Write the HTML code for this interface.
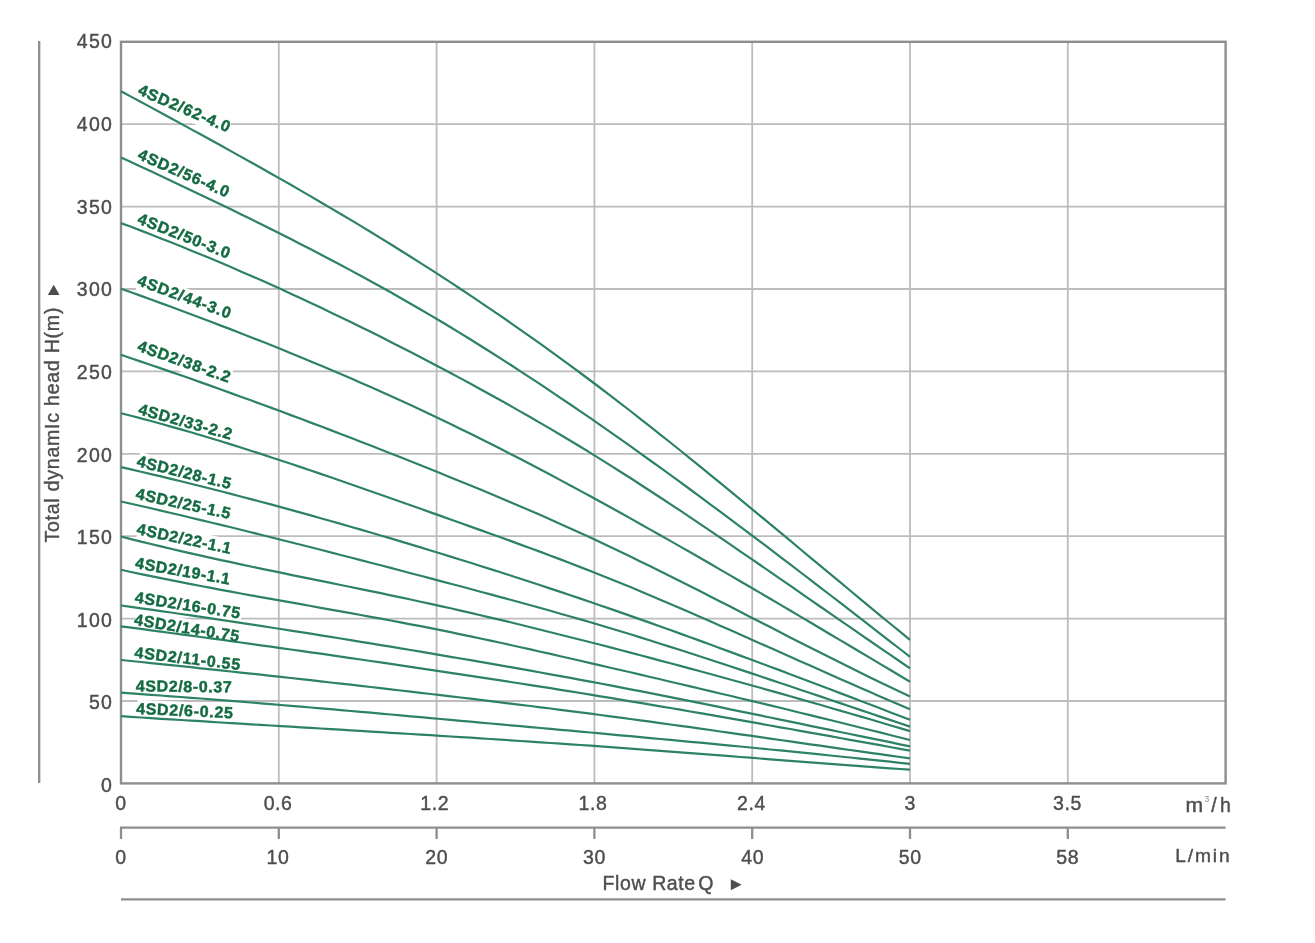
<!DOCTYPE html>
<html lang="en">
<head>
<meta charset="utf-8">
<title>4SD2 pump performance curves</title>
<style>
html,body{margin:0;padding:0;background:#ffffff;}
body{width:1315px;height:943px;position:relative;overflow:hidden;font-family:"Liberation Sans",sans-serif;}
</style>
</head>
<body>
<svg width="1315" height="943" viewBox="0 0 1315 943" style="position:absolute;left:0;top:0;display:block">
<rect x="0" y="0" width="1315" height="943" fill="#ffffff"/>
<g stroke="#bcbcbc" stroke-width="1.8" fill="none">
<line x1="278.8" y1="41.8" x2="278.8" y2="783.4"/>
<line x1="436.6" y1="41.8" x2="436.6" y2="783.4"/>
<line x1="594.4" y1="41.8" x2="594.4" y2="783.4"/>
<line x1="752.2" y1="41.8" x2="752.2" y2="783.4"/>
<line x1="910.0" y1="41.8" x2="910.0" y2="783.4"/>
<line x1="1067.8" y1="41.8" x2="1067.8" y2="783.4"/>
<line x1="121.0" y1="124.2" x2="1225.6" y2="124.2"/>
<line x1="121.0" y1="206.6" x2="1225.6" y2="206.6"/>
<line x1="121.0" y1="289.0" x2="1225.6" y2="289.0"/>
<line x1="121.0" y1="371.4" x2="1225.6" y2="371.4"/>
<line x1="121.0" y1="453.8" x2="1225.6" y2="453.8"/>
<line x1="121.0" y1="536.2" x2="1225.6" y2="536.2"/>
<line x1="121.0" y1="618.6" x2="1225.6" y2="618.6"/>
<line x1="121.0" y1="701.0" x2="1225.6" y2="701.0"/>
</g>
<g fill="#ffffff">
<rect x="137.9" y="80.1" width="97" height="19" transform="rotate(23.0 136.9 94.1)"/>
<rect x="137.8" y="144.6" width="97" height="19" transform="rotate(23.5 136.8 158.6)"/>
<rect x="137.6" y="209.0" width="97" height="19" transform="rotate(21.5 136.6 223.0)"/>
<rect x="137.3" y="270.8" width="97" height="19" transform="rotate(20.2 136.3 284.8)"/>
<rect x="137.4" y="336.5" width="97" height="19" transform="rotate(19.4 136.4 350.5)"/>
<rect x="138.4" y="399.7" width="97" height="19" transform="rotate(15.5 137.4 413.7)"/>
<rect x="137.0" y="451.7" width="97" height="19" transform="rotate(13.9 136.0 465.7)"/>
<rect x="136.1" y="484.3" width="97" height="19" transform="rotate(12.1 135.1 498.3)"/>
<rect x="137.1" y="519.8" width="97" height="19" transform="rotate(11.9 136.1 533.8)"/>
<rect x="135.5" y="553.6" width="97" height="19" transform="rotate(9.8 134.5 567.6)"/>
<rect x="135.3" y="588.1" width="107" height="19" transform="rotate(8.6 134.3 602.1)"/>
<rect x="134.5" y="610.3" width="107" height="19" transform="rotate(9.2 133.5 624.3)"/>
<rect x="135.1" y="643.0" width="107" height="19" transform="rotate(6.7 134.1 657.0)"/>
<rect x="136.7" y="677.0" width="97" height="19" transform="rotate(0.6 135.7 691.0)"/>
<rect x="136.9" y="699.6" width="97" height="19" transform="rotate(2.6 135.9 713.6)"/>
</g>
<rect x="121.0" y="41.8" width="1104.6" height="741.6" fill="none" stroke="#8e8e8e" stroke-width="2.4"/>
<line x1="39.2" y1="41" x2="39.2" y2="783" stroke="#8e8e8e" stroke-width="2.3"/>
<g stroke="#8e8e8e" stroke-width="2.3" fill="none">
<line x1="120.0" y1="827.7" x2="1225.6" y2="827.7"/>
<line x1="121.0" y1="827.7" x2="121.0" y2="839"/>
<line x1="278.8" y1="827.7" x2="278.8" y2="839"/>
<line x1="436.6" y1="827.7" x2="436.6" y2="839"/>
<line x1="594.4" y1="827.7" x2="594.4" y2="839"/>
<line x1="752.2" y1="827.7" x2="752.2" y2="839"/>
<line x1="910.0" y1="827.7" x2="910.0" y2="839"/>
<line x1="1067.8" y1="827.7" x2="1067.8" y2="839"/>
<line x1="121.0" y1="899.4" x2="1225.6" y2="899.4"/>
</g>
<g stroke="#2d8263" stroke-width="2.2" fill="none" stroke-linecap="butt" stroke-linejoin="round">
<polyline points="121.0,91.2 131.0,96.6 141.0,102.0 151.0,107.4 160.9,112.8 170.9,118.2 180.9,123.6 190.9,129.1 200.9,134.5 210.9,140.0 220.9,145.5 230.9,151.1 240.8,156.6 250.8,162.2 260.8,167.8 270.8,173.5 280.8,179.1 290.8,184.8 300.8,190.6 310.8,196.4 320.7,202.2 330.7,208.1 340.7,214.0 350.7,219.9 360.7,225.9 370.7,232.0 380.7,238.1 390.7,244.3 400.6,250.5 410.6,256.7 420.6,263.1 430.6,269.4 440.6,275.9 450.6,282.4 460.6,289.0 470.6,295.6 480.5,302.3 490.5,309.1 500.5,315.9 510.5,322.8 520.5,329.8 530.5,336.8 540.5,343.9 550.5,351.1 560.4,358.3 570.4,365.7 580.4,373.0 590.4,380.5 600.4,388.0 610.4,395.6 620.4,403.3 630.4,411.0 640.3,418.8 650.3,426.7 660.3,434.6 670.3,442.5 680.3,450.5 690.3,458.6 700.3,466.6 710.3,474.8 720.2,482.9 730.2,491.1 740.2,499.3 750.2,507.6 760.2,515.8 770.2,524.1 780.2,532.4 790.2,540.7 800.1,549.0 810.1,557.3 820.1,565.6 830.1,573.9 840.1,582.2 850.1,590.5 860.1,598.8 870.1,607.1 880.0,615.3 890.0,623.5 900.0,631.7 910.0,639.9"/>
<polyline points="121.0,157.4 131.0,162.0 141.0,166.7 151.0,171.3 160.9,176.0 170.9,180.7 180.9,185.4 190.9,190.2 200.9,194.9 210.9,199.7 220.9,204.5 230.9,209.3 240.8,214.2 250.8,219.1 260.8,224.0 270.8,229.0 280.8,234.0 290.8,239.1 300.8,244.2 310.8,249.3 320.7,254.5 330.7,259.7 340.7,265.0 350.7,270.4 360.7,275.8 370.7,281.2 380.7,286.8 390.7,292.3 400.6,298.0 410.6,303.7 420.6,309.5 430.6,315.4 440.6,321.3 450.6,327.3 460.6,333.4 470.6,339.5 480.5,345.7 490.5,352.0 500.5,358.4 510.5,364.8 520.5,371.3 530.5,377.8 540.5,384.4 550.5,391.1 560.4,397.8 570.4,404.5 580.4,411.4 590.4,418.2 600.4,425.2 610.4,432.1 620.4,439.2 630.4,446.2 640.3,453.3 650.3,460.5 660.3,467.7 670.3,474.9 680.3,482.2 690.3,489.5 700.3,496.9 710.3,504.3 720.2,511.7 730.2,519.1 740.2,526.6 750.2,534.1 760.2,541.6 770.2,549.2 780.2,556.8 790.2,564.4 800.1,572.0 810.1,579.6 820.1,587.3 830.1,595.0 840.1,602.7 850.1,610.4 860.1,618.1 870.1,625.8 880.0,633.6 890.0,641.3 900.0,649.0 910.0,656.8"/>
<polyline points="121.0,223.1 131.0,226.8 141.0,230.6 151.0,234.5 160.9,238.4 170.9,242.3 180.9,246.3 190.9,250.4 200.9,254.5 210.9,258.6 220.9,262.8 230.9,267.1 240.8,271.4 250.8,275.7 260.8,280.1 270.8,284.6 280.8,289.1 290.8,293.7 300.8,298.3 310.8,302.9 320.7,307.6 330.7,312.4 340.7,317.2 350.7,322.0 360.7,326.9 370.7,331.8 380.7,336.8 390.7,341.9 400.6,346.9 410.6,352.1 420.6,357.2 430.6,362.4 440.6,367.7 450.6,373.0 460.6,378.4 470.6,383.8 480.5,389.2 490.5,394.7 500.5,400.3 510.5,405.9 520.5,411.6 530.5,417.3 540.5,423.1 550.5,428.9 560.4,434.8 570.4,440.8 580.4,446.8 590.4,452.9 600.4,459.1 610.4,465.4 620.4,471.7 630.4,478.0 640.3,484.5 650.3,491.0 660.3,497.5 670.3,504.1 680.3,510.7 690.3,517.4 700.3,524.1 710.3,530.8 720.2,537.6 730.2,544.4 740.2,551.3 750.2,558.1 760.2,565.0 770.2,571.9 780.2,578.8 790.2,585.7 800.1,592.6 810.1,599.6 820.1,606.5 830.1,613.4 840.1,620.3 850.1,627.2 860.1,634.1 870.1,641.0 880.0,647.9 890.0,654.7 900.0,661.5 910.0,668.3"/>
<polyline points="121.0,288.7 131.0,292.3 141.0,295.9 151.0,299.5 160.9,303.1 170.9,306.8 180.9,310.5 190.9,314.2 200.9,318.0 210.9,321.8 220.9,325.6 230.9,329.4 240.8,333.3 250.8,337.2 260.8,341.1 270.8,345.1 280.8,349.1 290.8,353.2 300.8,357.2 310.8,361.4 320.7,365.5 330.7,369.8 340.7,374.0 350.7,378.3 360.7,382.7 370.7,387.0 380.7,391.5 390.7,396.0 400.6,400.5 410.6,405.1 420.6,409.8 430.6,414.5 440.6,419.2 450.6,424.0 460.6,428.9 470.6,433.8 480.5,438.8 490.5,443.8 500.5,448.8 510.5,453.9 520.5,459.1 530.5,464.3 540.5,469.5 550.5,474.8 560.4,480.1 570.4,485.5 580.4,490.9 590.4,496.3 600.4,501.8 610.4,507.3 620.4,512.8 630.4,518.4 640.3,524.0 650.3,529.6 660.3,535.2 670.3,540.9 680.3,546.6 690.3,552.3 700.3,558.0 710.3,563.8 720.2,569.6 730.2,575.4 740.2,581.2 750.2,587.0 760.2,592.9 770.2,598.7 780.2,604.6 790.2,610.5 800.1,616.4 810.1,622.3 820.1,628.2 830.1,634.2 840.1,640.1 850.1,646.0 860.1,652.0 870.1,657.9 880.0,663.9 890.0,669.8 900.0,675.8 910.0,681.7"/>
<polyline points="121.0,354.8 131.0,358.2 141.0,361.6 151.0,365.0 160.9,368.4 170.9,371.9 180.9,375.3 190.9,378.8 200.9,382.4 210.9,385.9 220.9,389.5 230.9,393.1 240.8,396.7 250.8,400.3 260.8,404.0 270.8,407.6 280.8,411.3 290.8,415.1 300.8,418.8 310.8,422.6 320.7,426.3 330.7,430.1 340.7,434.0 350.7,437.8 360.7,441.7 370.7,445.6 380.7,449.5 390.7,453.4 400.6,457.3 410.6,461.3 420.6,465.3 430.6,469.3 440.6,473.3 450.6,477.4 460.6,481.4 470.6,485.5 480.5,489.6 490.5,493.8 500.5,498.0 510.5,502.2 520.5,506.4 530.5,510.7 540.5,515.1 550.5,519.5 560.4,523.9 570.4,528.4 580.4,532.9 590.4,537.5 600.4,542.2 610.4,546.9 620.4,551.7 630.4,556.5 640.3,561.4 650.3,566.3 660.3,571.2 670.3,576.2 680.3,581.2 690.3,586.3 700.3,591.3 710.3,596.4 720.2,601.5 730.2,606.6 740.2,611.7 750.2,616.9 760.2,622.0 770.2,627.1 780.2,632.2 790.2,637.4 800.1,642.5 810.1,647.5 820.1,652.6 830.1,657.6 840.1,662.6 850.1,667.6 860.1,672.5 870.1,677.4 880.0,682.3 890.0,687.1 900.0,691.8 910.0,696.5"/>
<polyline points="121.0,413.2 131.0,415.8 141.0,418.4 151.0,421.0 160.9,423.8 170.9,426.6 180.9,429.4 190.9,432.3 200.9,435.3 210.9,438.3 220.9,441.3 230.9,444.4 240.8,447.5 250.8,450.7 260.8,453.9 270.8,457.2 280.8,460.5 290.8,463.8 300.8,467.1 310.8,470.5 320.7,473.9 330.7,477.3 340.7,480.8 350.7,484.2 360.7,487.7 370.7,491.2 380.7,494.7 390.7,498.2 400.6,501.8 410.6,505.3 420.6,508.8 430.6,512.4 440.6,515.9 450.6,519.5 460.6,523.0 470.6,526.6 480.5,530.1 490.5,533.7 500.5,537.3 510.5,540.9 520.5,544.6 530.5,548.2 540.5,551.9 550.5,555.7 560.4,559.4 570.4,563.3 580.4,567.1 590.4,571.0 600.4,575.0 610.4,579.0 620.4,583.0 630.4,587.1 640.3,591.3 650.3,595.5 660.3,599.7 670.3,604.0 680.3,608.2 690.3,612.6 700.3,616.9 710.3,621.3 720.2,625.7 730.2,630.1 740.2,634.5 750.2,638.9 760.2,643.4 770.2,647.8 780.2,652.3 790.2,656.7 800.1,661.2 810.1,665.6 820.1,670.0 830.1,674.5 840.1,678.9 850.1,683.3 860.1,687.7 870.1,692.0 880.0,696.4 890.0,700.7 900.0,705.0 910.0,709.2"/>
<polyline points="121.0,467.1 131.0,469.4 141.0,471.7 151.0,474.1 160.9,476.4 170.9,478.9 180.9,481.3 190.9,483.8 200.9,486.3 210.9,488.8 220.9,491.3 230.9,493.9 240.8,496.5 250.8,499.1 260.8,501.8 270.8,504.4 280.8,507.1 290.8,509.9 300.8,512.6 310.8,515.4 320.7,518.2 330.7,521.0 340.7,523.9 350.7,526.7 360.7,529.6 370.7,532.5 380.7,535.5 390.7,538.4 400.6,541.4 410.6,544.4 420.6,547.4 430.6,550.5 440.6,553.5 450.6,556.6 460.6,559.7 470.6,562.8 480.5,566.0 490.5,569.1 500.5,572.3 510.5,575.5 520.5,578.8 530.5,582.0 540.5,585.3 550.5,588.6 560.4,591.9 570.4,595.3 580.4,598.6 590.4,602.0 600.4,605.5 610.4,608.9 620.4,612.4 630.4,615.9 640.3,619.4 650.3,622.9 660.3,626.5 670.3,630.0 680.3,633.6 690.3,637.2 700.3,640.9 710.3,644.5 720.2,648.2 730.2,651.9 740.2,655.6 750.2,659.3 760.2,663.0 770.2,666.7 780.2,670.4 790.2,674.2 800.1,678.0 810.1,681.7 820.1,685.5 830.1,689.3 840.1,693.1 850.1,696.9 860.1,700.7 870.1,704.5 880.0,708.3 890.0,712.2 900.0,716.0 910.0,719.8"/>
<polyline points="121.0,501.5 131.0,503.8 141.0,506.0 151.0,508.3 160.9,510.6 170.9,513.0 180.9,515.3 190.9,517.7 200.9,520.1 210.9,522.5 220.9,524.9 230.9,527.3 240.8,529.8 250.8,532.2 260.8,534.7 270.8,537.2 280.8,539.7 290.8,542.2 300.8,544.7 310.8,547.3 320.7,549.8 330.7,552.4 340.7,555.0 350.7,557.5 360.7,560.1 370.7,562.7 380.7,565.3 390.7,567.9 400.6,570.5 410.6,573.2 420.6,575.8 430.6,578.4 440.6,581.1 450.6,583.7 460.6,586.3 470.6,589.0 480.5,591.7 490.5,594.4 500.5,597.1 510.5,599.8 520.5,602.5 530.5,605.2 540.5,608.0 550.5,610.8 560.4,613.7 570.4,616.5 580.4,619.4 590.4,622.3 600.4,625.3 610.4,628.3 620.4,631.3 630.4,634.3 640.3,637.4 650.3,640.5 660.3,643.7 670.3,646.9 680.3,650.0 690.3,653.3 700.3,656.5 710.3,659.8 720.2,663.0 730.2,666.3 740.2,669.6 750.2,672.9 760.2,676.3 770.2,679.6 780.2,683.0 790.2,686.3 800.1,689.7 810.1,693.0 820.1,696.4 830.1,699.8 840.1,703.1 850.1,706.5 860.1,709.9 870.1,713.2 880.0,716.6 890.0,719.9 900.0,723.3 910.0,726.6"/>
<polyline points="121.0,536.5 131.0,539.1 141.0,541.6 151.0,544.0 160.9,546.4 170.9,548.8 180.9,551.1 190.9,553.4 200.9,555.6 210.9,557.9 220.9,560.1 230.9,562.2 240.8,564.4 250.8,566.5 260.8,568.6 270.8,570.6 280.8,572.7 290.8,574.8 300.8,576.8 310.8,578.9 320.7,580.9 330.7,582.9 340.7,585.0 350.7,587.0 360.7,589.1 370.7,591.1 380.7,593.2 390.7,595.3 400.6,597.4 410.6,599.5 420.6,601.7 430.6,603.9 440.6,606.1 450.6,608.3 460.6,610.6 470.6,612.9 480.5,615.2 490.5,617.6 500.5,619.9 510.5,622.3 520.5,624.8 530.5,627.2 540.5,629.7 550.5,632.2 560.4,634.7 570.4,637.2 580.4,639.7 590.4,642.3 600.4,644.8 610.4,647.4 620.4,650.0 630.4,652.6 640.3,655.3 650.3,657.9 660.3,660.6 670.3,663.2 680.3,665.9 690.3,668.6 700.3,671.3 710.3,674.0 720.2,676.8 730.2,679.5 740.2,682.3 750.2,685.0 760.2,687.8 770.2,690.6 780.2,693.4 790.2,696.3 800.1,699.1 810.1,702.0 820.1,704.8 830.1,707.7 840.1,710.6 850.1,713.5 860.1,716.4 870.1,719.3 880.0,722.2 890.0,725.2 900.0,728.1 910.0,731.1"/>
<polyline points="121.0,569.8 131.0,572.0 141.0,574.1 151.0,576.1 160.9,578.2 170.9,580.2 180.9,582.2 190.9,584.1 200.9,586.0 210.9,587.9 220.9,589.8 230.9,591.6 240.8,593.5 250.8,595.3 260.8,597.1 270.8,598.9 280.8,600.7 290.8,602.4 300.8,604.2 310.8,606.0 320.7,607.8 330.7,609.6 340.7,611.3 350.7,613.2 360.7,615.0 370.7,616.8 380.7,618.6 390.7,620.5 400.6,622.4 410.6,624.3 420.6,626.2 430.6,628.2 440.6,630.2 450.6,632.2 460.6,634.3 470.6,636.4 480.5,638.5 490.5,640.6 500.5,642.8 510.5,645.0 520.5,647.2 530.5,649.4 540.5,651.7 550.5,653.9 560.4,656.2 570.4,658.5 580.4,660.8 590.4,663.1 600.4,665.4 610.4,667.7 620.4,670.0 630.4,672.3 640.3,674.6 650.3,677.0 660.3,679.3 670.3,681.7 680.3,684.0 690.3,686.4 700.3,688.7 710.3,691.1 720.2,693.5 730.2,695.8 740.2,698.2 750.2,700.6 760.2,703.0 770.2,705.4 780.2,707.8 790.2,710.3 800.1,712.7 810.1,715.1 820.1,717.6 830.1,720.0 840.1,722.5 850.1,725.0 860.1,727.5 870.1,730.0 880.0,732.4 890.0,735.0 900.0,737.5 910.0,740.0"/>
<polyline points="121.0,605.5 131.0,606.9 141.0,608.3 151.0,609.7 160.9,611.1 170.9,612.5 180.9,614.0 190.9,615.4 200.9,616.9 210.9,618.4 220.9,619.9 230.9,621.4 240.8,622.9 250.8,624.4 260.8,625.9 270.8,627.5 280.8,629.0 290.8,630.6 300.8,632.1 310.8,633.7 320.7,635.3 330.7,636.9 340.7,638.5 350.7,640.1 360.7,641.8 370.7,643.4 380.7,645.1 390.7,646.7 400.6,648.4 410.6,650.0 420.6,651.7 430.6,653.4 440.6,655.1 450.6,656.8 460.6,658.5 470.6,660.2 480.5,661.9 490.5,663.6 500.5,665.4 510.5,667.1 520.5,668.9 530.5,670.7 540.5,672.5 550.5,674.3 560.4,676.1 570.4,677.9 580.4,679.8 590.4,681.6 600.4,683.5 610.4,685.4 620.4,687.4 630.4,689.3 640.3,691.2 650.3,693.2 660.3,695.2 670.3,697.2 680.3,699.2 690.3,701.2 700.3,703.2 710.3,705.2 720.2,707.2 730.2,709.3 740.2,711.3 750.2,713.4 760.2,715.4 770.2,717.5 780.2,719.6 790.2,721.6 800.1,723.7 810.1,725.8 820.1,727.8 830.1,729.9 840.1,732.0 850.1,734.0 860.1,736.1 870.1,738.1 880.0,740.2 890.0,742.2 900.0,744.3 910.0,746.3"/>
<polyline points="121.0,626.3 131.0,627.6 141.0,628.9 151.0,630.3 160.9,631.6 170.9,633.0 180.9,634.3 190.9,635.7 200.9,637.0 210.9,638.4 220.9,639.7 230.9,641.1 240.8,642.5 250.8,643.9 260.8,645.3 270.8,646.7 280.8,648.1 290.8,649.5 300.8,650.9 310.8,652.3 320.7,653.7 330.7,655.2 340.7,656.6 350.7,658.1 360.7,659.5 370.7,661.0 380.7,662.4 390.7,663.9 400.6,665.4 410.6,666.8 420.6,668.3 430.6,669.8 440.6,671.3 450.6,672.8 460.6,674.3 470.6,675.8 480.5,677.3 490.5,678.9 500.5,680.4 510.5,682.0 520.5,683.5 530.5,685.1 540.5,686.6 550.5,688.2 560.4,689.8 570.4,691.4 580.4,693.0 590.4,694.6 600.4,696.3 610.4,697.9 620.4,699.6 630.4,701.3 640.3,702.9 650.3,704.6 660.3,706.3 670.3,708.0 680.3,709.7 690.3,711.5 700.3,713.2 710.3,714.9 720.2,716.7 730.2,718.4 740.2,720.2 750.2,721.9 760.2,723.7 770.2,725.5 780.2,727.3 790.2,729.0 800.1,730.8 810.1,732.6 820.1,734.4 830.1,736.2 840.1,738.0 850.1,739.8 860.1,741.6 870.1,743.4 880.0,745.2 890.0,747.0 900.0,748.8 910.0,750.6"/>
<polyline points="121.0,660.0 131.0,661.0 141.0,662.0 151.0,663.1 160.9,664.1 170.9,665.1 180.9,666.2 190.9,667.2 200.9,668.3 210.9,669.3 220.9,670.4 230.9,671.5 240.8,672.6 250.8,673.6 260.8,674.7 270.8,675.8 280.8,676.9 290.8,678.0 300.8,679.1 310.8,680.2 320.7,681.4 330.7,682.5 340.7,683.6 350.7,684.7 360.7,685.9 370.7,687.0 380.7,688.2 390.7,689.3 400.6,690.5 410.6,691.7 420.6,692.8 430.6,694.0 440.6,695.2 450.6,696.4 460.6,697.5 470.6,698.7 480.5,699.9 490.5,701.1 500.5,702.4 510.5,703.6 520.5,704.8 530.5,706.0 540.5,707.3 550.5,708.5 560.4,709.8 570.4,711.1 580.4,712.4 590.4,713.7 600.4,715.0 610.4,716.3 620.4,717.6 630.4,719.0 640.3,720.3 650.3,721.7 660.3,723.1 670.3,724.5 680.3,725.8 690.3,727.2 700.3,728.6 710.3,730.0 720.2,731.5 730.2,732.9 740.2,734.3 750.2,735.7 760.2,737.1 770.2,738.6 780.2,740.0 790.2,741.4 800.1,742.9 810.1,744.3 820.1,745.7 830.1,747.1 840.1,748.6 850.1,750.0 860.1,751.4 870.1,752.8 880.0,754.2 890.0,755.6 900.0,757.0 910.0,758.4"/>
<polyline points="121.0,692.7 131.0,693.4 141.0,694.1 151.0,694.8 160.9,695.5 170.9,696.3 180.9,697.0 190.9,697.8 200.9,698.5 210.9,699.3 220.9,700.1 230.9,700.9 240.8,701.7 250.8,702.5 260.8,703.3 270.8,704.1 280.8,705.0 290.8,705.8 300.8,706.7 310.8,707.5 320.7,708.4 330.7,709.2 340.7,710.1 350.7,711.0 360.7,711.8 370.7,712.7 380.7,713.6 390.7,714.5 400.6,715.4 410.6,716.3 420.6,717.2 430.6,718.1 440.6,719.0 450.6,719.9 460.6,720.8 470.6,721.7 480.5,722.6 490.5,723.5 500.5,724.4 510.5,725.3 520.5,726.2 530.5,727.1 540.5,728.0 550.5,728.9 560.4,729.8 570.4,730.7 580.4,731.6 590.4,732.5 600.4,733.4 610.4,734.4 620.4,735.3 630.4,736.2 640.3,737.1 650.3,738.1 660.3,739.0 670.3,739.9 680.3,740.8 690.3,741.8 700.3,742.7 710.3,743.7 720.2,744.6 730.2,745.6 740.2,746.5 750.2,747.5 760.2,748.5 770.2,749.5 780.2,750.4 790.2,751.4 800.1,752.4 810.1,753.4 820.1,754.4 830.1,755.5 840.1,756.5 850.1,757.5 860.1,758.6 870.1,759.6 880.0,760.7 890.0,761.7 900.0,762.8 910.0,763.9"/>
<polyline points="121.0,716.2 131.0,716.8 141.0,717.5 151.0,718.1 160.9,718.8 170.9,719.4 180.9,720.0 190.9,720.6 200.9,721.2 210.9,721.9 220.9,722.5 230.9,723.1 240.8,723.7 250.8,724.3 260.8,724.9 270.8,725.5 280.8,726.1 290.8,726.7 300.8,727.3 310.8,727.9 320.7,728.5 330.7,729.1 340.7,729.7 350.7,730.3 360.7,730.9 370.7,731.6 380.7,732.2 390.7,732.8 400.6,733.4 410.6,734.0 420.6,734.6 430.6,735.2 440.6,735.8 450.6,736.5 460.6,737.1 470.6,737.7 480.5,738.4 490.5,739.0 500.5,739.6 510.5,740.3 520.5,741.0 530.5,741.6 540.5,742.3 550.5,743.0 560.4,743.6 570.4,744.3 580.4,745.0 590.4,745.7 600.4,746.4 610.4,747.1 620.4,747.9 630.4,748.6 640.3,749.3 650.3,750.1 660.3,750.8 670.3,751.6 680.3,752.4 690.3,753.1 700.3,753.9 710.3,754.7 720.2,755.4 730.2,756.2 740.2,757.0 750.2,757.7 760.2,758.5 770.2,759.3 780.2,760.1 790.2,760.8 800.1,761.6 810.1,762.4 820.1,763.1 830.1,763.9 840.1,764.6 850.1,765.4 860.1,766.1 870.1,766.8 880.0,767.6 890.0,768.3 900.0,769.0 910.0,769.7"/>
</g>
<g font-family="'Liberation Sans', sans-serif" font-weight="bold" font-size="16" fill="#146b42" stroke="#146b42" stroke-width="0.45" stroke-linejoin="round">
<text x="136.9" y="94.1" letter-spacing="0.85" transform="rotate(23.0 136.9 94.1)">4SD2/62-4.0</text>
<text x="136.8" y="158.6" letter-spacing="0.8" transform="rotate(23.5 136.8 158.6)">4SD2/56-4.0</text>
<text x="136.6" y="223.0" letter-spacing="0.8" transform="rotate(21.5 136.6 223.0)">4SD2/50-3.0</text>
<text x="136.3" y="284.8" letter-spacing="0.85" transform="rotate(20.2 136.3 284.8)">4SD2/44-3.0</text>
<text x="136.4" y="350.5" letter-spacing="0.75" transform="rotate(19.4 136.4 350.5)">4SD2/38-2.2</text>
<text x="137.4" y="414.0" letter-spacing="0.65" transform="rotate(15.5 137.4 414.0)">4SD2/33-2.2</text>
<text x="136.0" y="466.1" letter-spacing="0.65" transform="rotate(13.9 136.0 466.1)">4SD2/28-1.5</text>
<text x="135.1" y="498.8" letter-spacing="0.65" transform="rotate(12.1 135.1 498.8)">4SD2/25-1.5</text>
<text x="136.1" y="534.1" letter-spacing="0.62" transform="rotate(11.9 136.1 534.1)">4SD2/22-1.1</text>
<text x="134.5" y="568.1" letter-spacing="0.62" transform="rotate(9.8 134.5 568.1)">4SD2/19-1.1</text>
<text x="134.3" y="602.6" letter-spacing="0.68" transform="rotate(8.6 134.3 602.6)">4SD2/16-0.75</text>
<text x="133.5" y="624.8" letter-spacing="0.68" transform="rotate(9.2 133.5 624.8)">4SD2/14-0.75</text>
<text x="134.1" y="657.7" letter-spacing="0.75" transform="rotate(6.7 134.1 657.7)">4SD2/11-0.55</text>
<text x="135.7" y="691.4" letter-spacing="0.62" transform="rotate(0.6 135.7 691.4)">4SD2/8-0.37</text>
<text x="135.9" y="713.9" letter-spacing="0.7" transform="rotate(2.6 135.9 713.9)">4SD2/6-0.25</text>
</g>
<g font-family="'Liberation Sans', sans-serif" font-size="19.5" letter-spacing="0.6" fill="#4e4e4e" stroke="#4e4e4e" stroke-width="0.42" stroke-linejoin="round">
<text x="113.2" y="48.4" text-anchor="end" letter-spacing="1.3">450</text>
<text x="113.2" y="131.0" text-anchor="end" letter-spacing="1.3">400</text>
<text x="113.2" y="213.7" text-anchor="end" letter-spacing="1.3">350</text>
<text x="113.2" y="296.3" text-anchor="end" letter-spacing="1.3">300</text>
<text x="113.2" y="378.9" text-anchor="end" letter-spacing="1.3">250</text>
<text x="113.2" y="461.5" text-anchor="end" letter-spacing="1.3">200</text>
<text x="113.2" y="544.2" text-anchor="end" letter-spacing="1.3">150</text>
<text x="113.2" y="626.8" text-anchor="end" letter-spacing="1.3">100</text>
<text x="113.2" y="709.4" text-anchor="end" letter-spacing="1.3">50</text>
<text x="113.2" y="792.1" text-anchor="end" letter-spacing="1.3">0</text>
<text x="121.0" y="809.9" text-anchor="middle">0</text>
<text x="278.1" y="809.9" text-anchor="middle">0.6</text>
<text x="434.7" y="809.9" text-anchor="middle">1.2</text>
<text x="592.9" y="809.9" text-anchor="middle">1.8</text>
<text x="751.4" y="809.9" text-anchor="middle">2.4</text>
<text x="910.3" y="809.9" text-anchor="middle">3</text>
<text x="1067.5" y="809.9" text-anchor="middle">3.5</text>
<text x="121.0" y="864.2" text-anchor="middle">0</text>
<text x="277.9" y="864.2" text-anchor="middle">10</text>
<text x="436.8" y="864.2" text-anchor="middle">20</text>
<text x="594.5" y="864.2" text-anchor="middle">30</text>
<text x="752.7" y="864.2" text-anchor="middle">40</text>
<text x="910.3" y="864.2" text-anchor="middle">50</text>
<text x="1067.8" y="864.2" text-anchor="middle">58</text>
<text x="1185.6" y="811.6" font-size="19.5" letter-spacing="0"><tspan textLength="17.6" lengthAdjust="spacingAndGlyphs">m</tspan><tspan font-size="8.5" dx="1.2" dy="-9.6" stroke="none" fill="#8a8a8a">3</tspan><tspan dy="9.6" dx="2.2">/</tspan><tspan dx="3.2">h</tspan></text>
<text x="1175.2" y="861.6" font-size="19.2" letter-spacing="1.9">L/min</text>
<text x="602.6" y="889.9">Flow Rate <tspan dx="-3.6">Q</tspan></text>
<text x="58.8" y="542.6" transform="rotate(-90 58.8 542.6)" letter-spacing="0.78">Total dynamIc head H(m)</text>
</g>
<polygon points="730.8,879.2 741.6,884.7 730.8,890.2" fill="#4e4e4e"/>
<polygon points="47.8,295 59.6,295 53.7,284.8" fill="#4e4e4e"/>
</svg>
</body>
</html>
